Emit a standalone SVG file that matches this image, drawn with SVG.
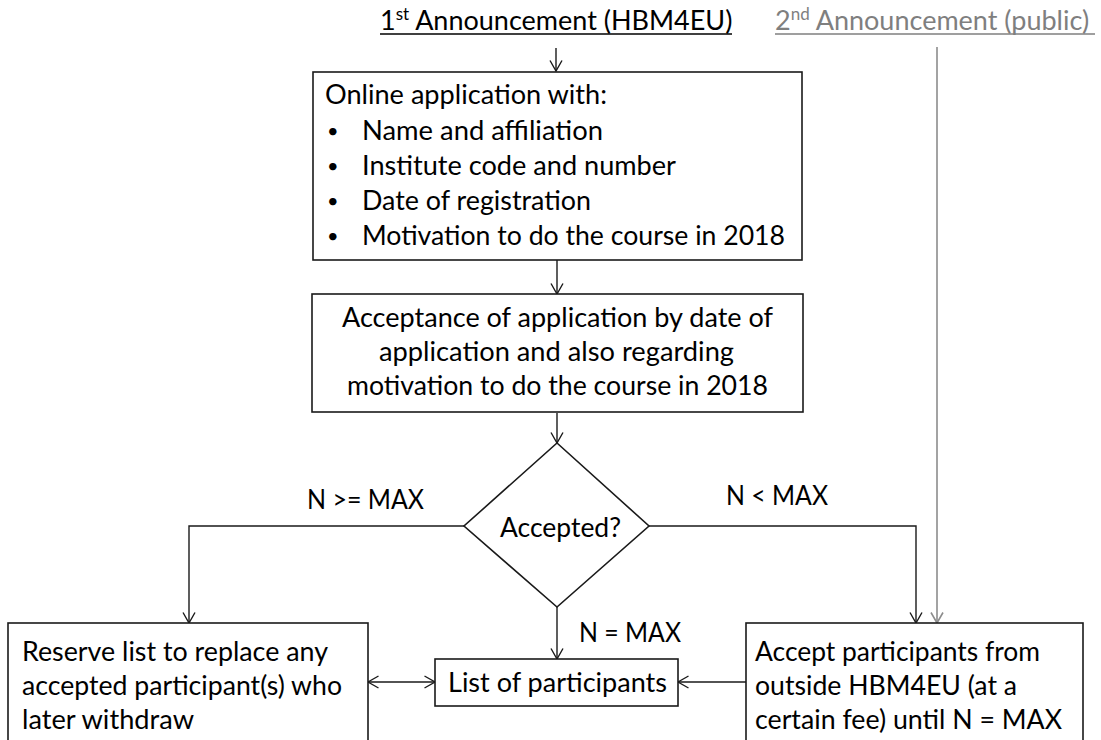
<svg xmlns="http://www.w3.org/2000/svg" width="1101" height="740" viewBox="0 0 1101 740">
<defs>
<style>
.t{font-family:Lato,"Open Sans","Liberation Sans",sans-serif;font-size:27px;fill:#000}
.b{font-family:Lato,"Open Sans","Liberation Sans",sans-serif;font-size:20px;fill:#000}
.g{fill:#7f7f7f}
.box{fill:#fff;stroke:#1a1a1a;stroke-width:1.6}
.ln{fill:none;stroke:#1a1a1a;stroke-width:1.4}
.lg{fill:none;stroke:#8c8c8c;stroke-width:1.6}
</style>
<marker id="ah" viewBox="0 0 12 14" refX="11.5" refY="7" markerWidth="12" markerHeight="14" markerUnits="userSpaceOnUse" orient="auto-start-reverse">
<path d="M1,1 L11.5,7 L1,13" fill="none" stroke="#1a1a1a" stroke-width="1.4"/>
</marker>
<marker id="ahg" viewBox="0 0 12 14" refX="11.5" refY="7" markerWidth="12" markerHeight="14" markerUnits="userSpaceOnUse" orient="auto">
<path d="M1,1 L11.5,7 L1,13" fill="none" stroke="#8c8c8c" stroke-width="1.6"/>
</marker>
</defs>
<rect width="1101" height="740" fill="#fff"/>

<g id="title1">
<text class="t" x="380" y="30">1<tspan font-size="17" dy="-10">st</tspan><tspan dy="10"> Announcement (HBM4EU)</tspan></text>
<line x1="380" y1="34" x2="732" y2="34" stroke="#000" stroke-width="1.4"/>
</g>
<g id="title2">
<text class="t g" x="775" y="30">2<tspan font-size="17" dy="-10">nd</tspan><tspan dy="10"> Announcement (public)</tspan></text>
<line x1="775" y1="34" x2="1095" y2="34" stroke="#7f7f7f" stroke-width="1.4"/>
</g>

<g id="connectors">
<path class="ln" d="M556,48 V71" marker-end="url(#ah)"/>
<path class="ln" d="M557,260 V294" marker-end="url(#ah)"/>
<path class="ln" d="M557,413 V443" marker-end="url(#ah)"/>
<path class="ln" d="M464,526 H189 V623" marker-end="url(#ah)"/>
<path class="ln" d="M649,526 H916 V623" marker-end="url(#ah)"/>
<path class="lg" d="M937,47 V623" marker-end="url(#ahg)"/>
<path class="ln" d="M557,607 V659" marker-end="url(#ah)"/>
<path class="ln" d="M746,682 H678" marker-end="url(#ah)"/>
<path class="ln" d="M368,682 H435" marker-start="url(#ah)" marker-end="url(#ah)"/>
</g>

<g id="online">
<rect class="box" x="313" y="72" width="489" height="188"/>
<text class="t" x="325" y="104" textLength="282" lengthAdjust="spacingAndGlyphs">Online application with:</text>
<text class="b" x="327" y="138">•</text>
<text class="b" x="327" y="173">•</text>
<text class="b" x="327" y="208">•</text>
<text class="b" x="327" y="243">•</text>
<text class="t" x="362" y="140" textLength="241" lengthAdjust="spacingAndGlyphs">Name and affiliation</text>
<text class="t" x="362" y="175" textLength="314" lengthAdjust="spacingAndGlyphs">Institute code and number</text>
<text class="t" x="362" y="210" textLength="229" lengthAdjust="spacingAndGlyphs">Date of registration</text>
<text class="t" x="362" y="245" textLength="423" lengthAdjust="spacingAndGlyphs">Motivation to do the course in 2018</text>
</g>

<g id="acceptance">
<rect class="box" x="312" y="294" width="491" height="118"/>
<text class="t" x="342" y="327" textLength="431" lengthAdjust="spacingAndGlyphs">Acceptance of application by date of</text>
<text class="t" x="379" y="361" textLength="355" lengthAdjust="spacingAndGlyphs">application and also regarding</text>
<text class="t" x="347" y="395" textLength="421" lengthAdjust="spacingAndGlyphs">motivation to do the course in 2018</text>
</g>

<g id="decision">
<polygon class="box" points="557,443 649,526 557,607 464,526"/>
<text class="t" x="500" y="537" textLength="121" lengthAdjust="spacingAndGlyphs">Accepted?</text>
</g>

<g id="labels">
<text class="t" x="307" y="509" textLength="117" lengthAdjust="spacingAndGlyphs">N &gt;= MAX</text>
<text class="t" x="726" y="505" textLength="102" lengthAdjust="spacingAndGlyphs">N &lt; MAX</text>
<text class="t" x="579" y="642" textLength="102" lengthAdjust="spacingAndGlyphs">N = MAX</text>
</g>

<g id="list">
<rect class="box" x="435" y="659" width="243" height="47"/>
<text class="t" x="448" y="692" textLength="219" lengthAdjust="spacingAndGlyphs">List of participants</text>
</g>

<g id="reserve">
<rect class="box" x="8" y="623" width="360" height="130"/>
<text class="t" x="22" y="661" textLength="306" lengthAdjust="spacingAndGlyphs">Reserve list to replace any</text>
<text class="t" x="22" y="695" textLength="320" lengthAdjust="spacingAndGlyphs">accepted participant(s) who</text>
<text class="t" x="22" y="729" textLength="172" lengthAdjust="spacingAndGlyphs">later withdraw</text>
</g>

<g id="outside">
<rect class="box" x="746" y="623" width="337" height="130"/>
<text class="t" x="755" y="661" textLength="285" lengthAdjust="spacingAndGlyphs">Accept participants from</text>
<text class="t" x="755" y="695" textLength="262" lengthAdjust="spacingAndGlyphs">outside HBM4EU (at a</text>
<text class="t" x="755" y="729" textLength="307" lengthAdjust="spacingAndGlyphs">certain fee) until N = MAX</text>
</g>
</svg>
